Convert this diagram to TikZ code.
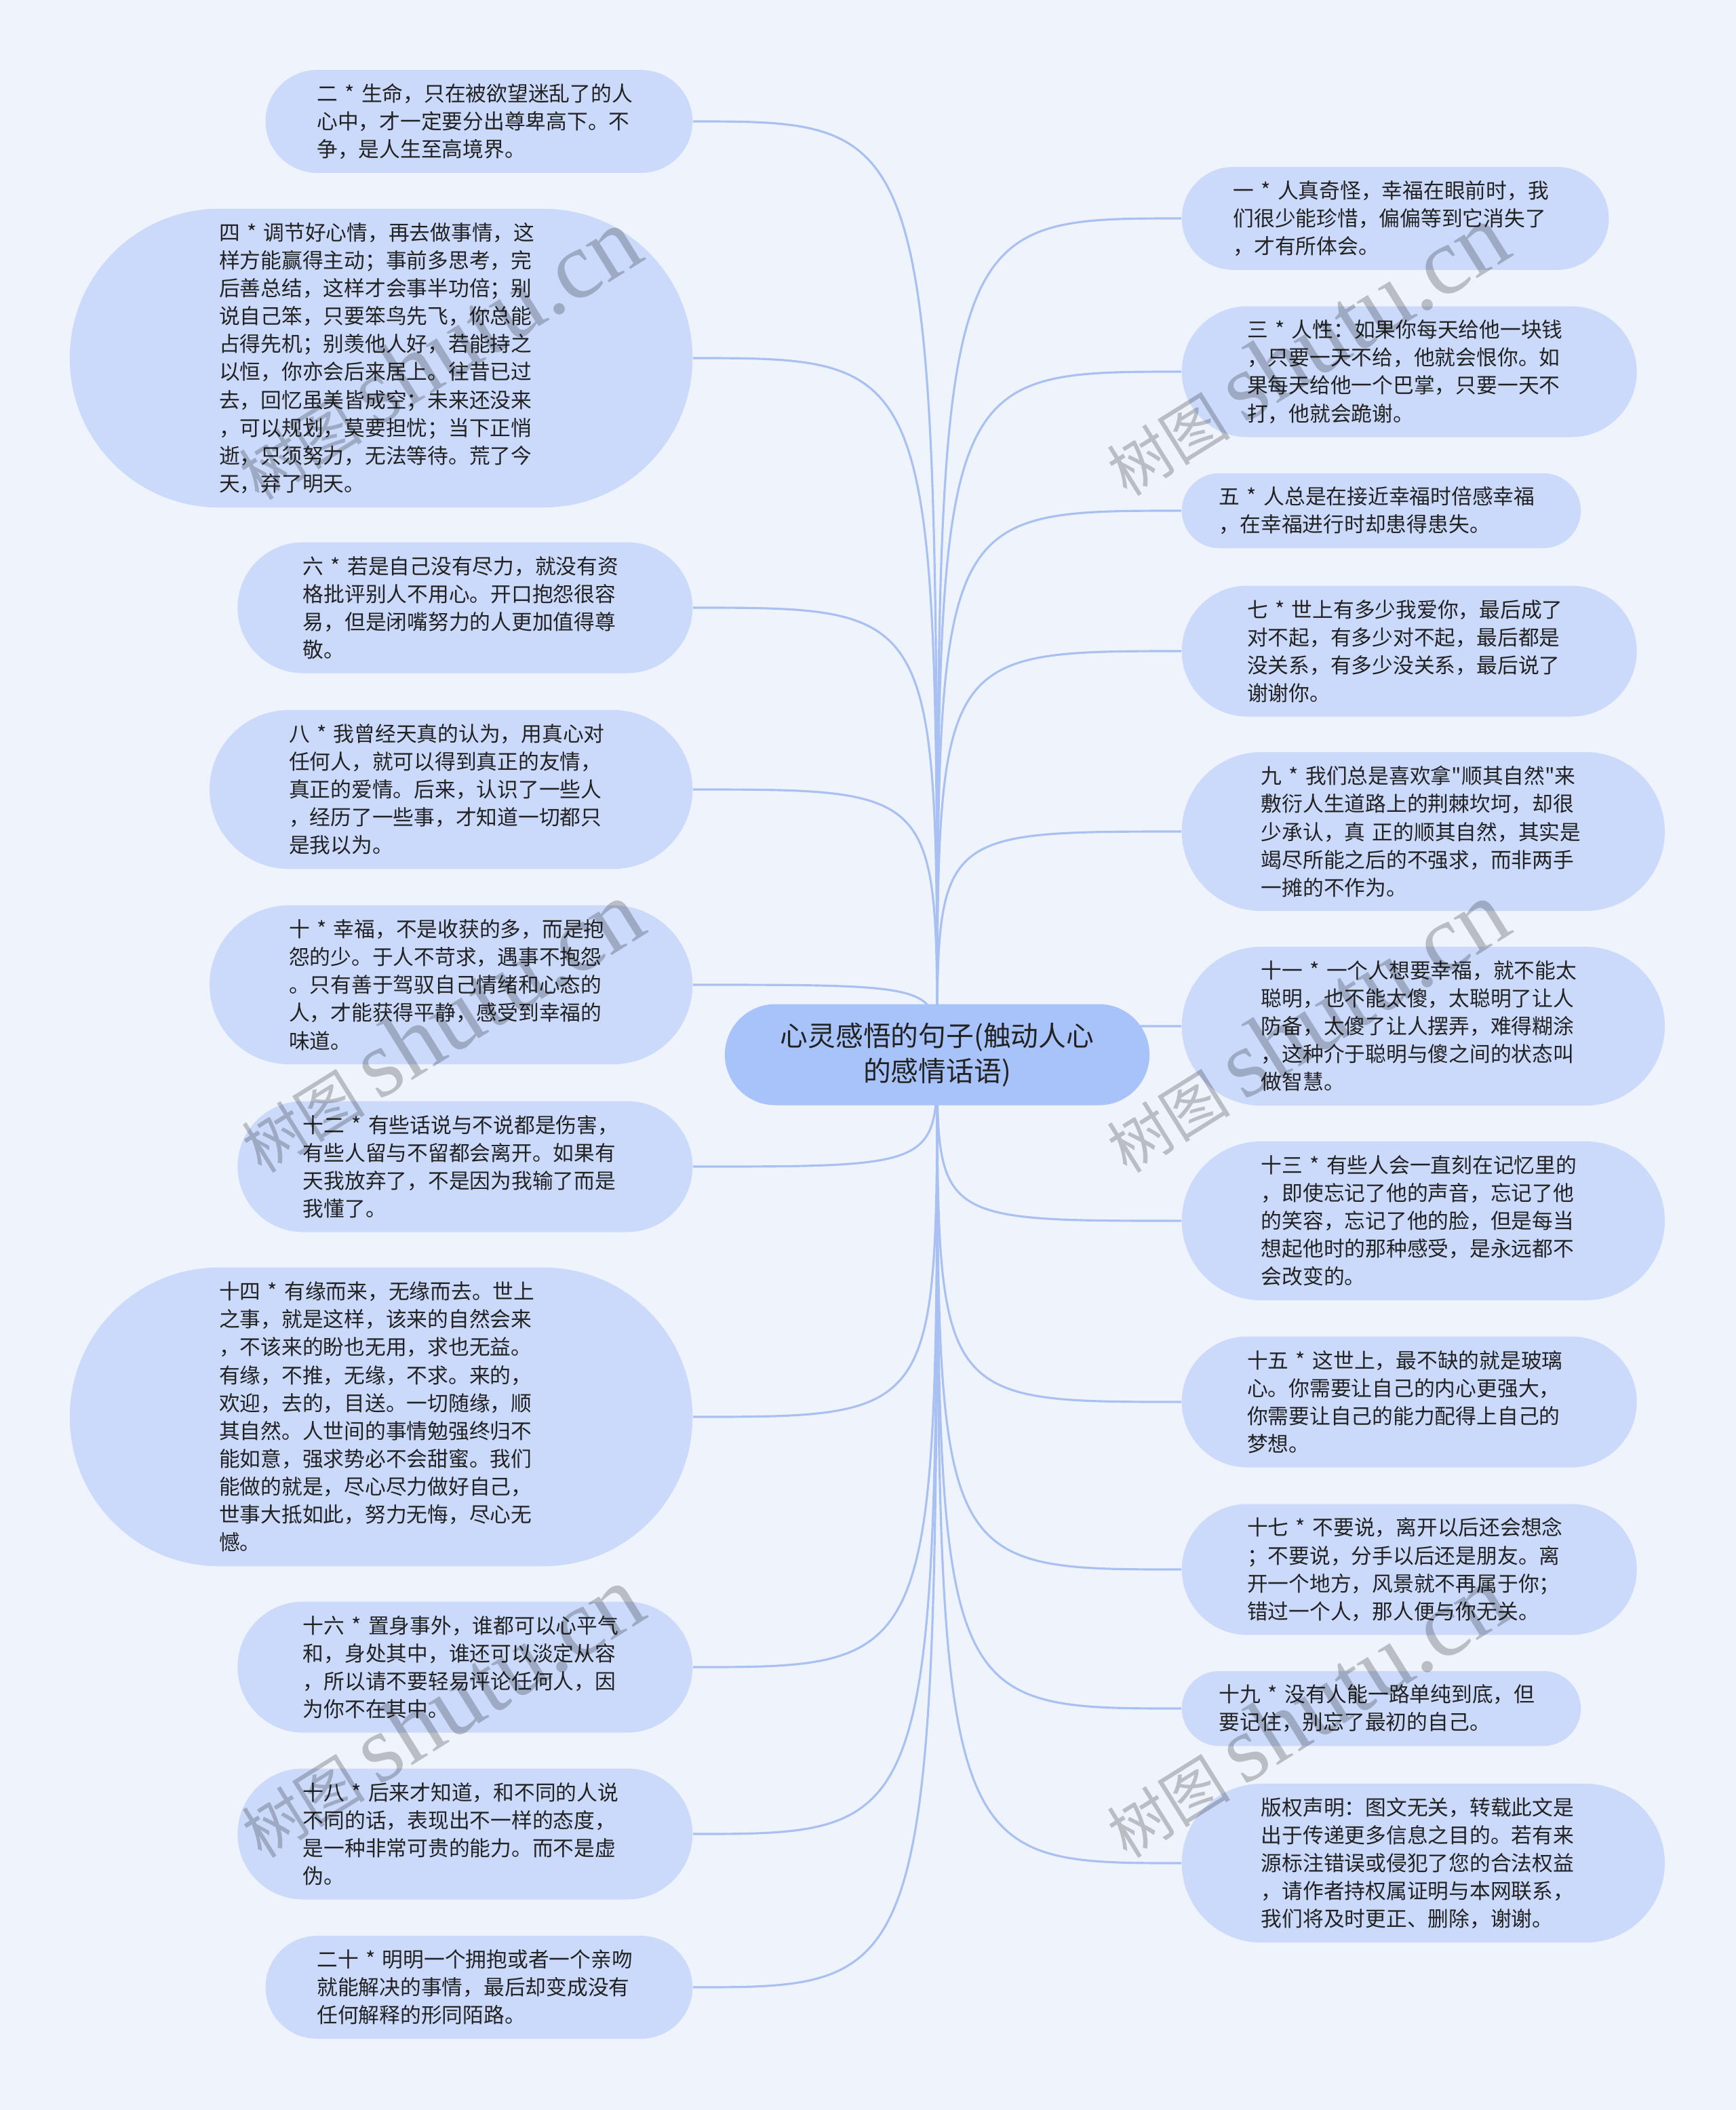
\documentclass[tikz,border=0pt]{standalone}
\usepackage{fontspec}
\setmainfont{Noto Sans CJK SC}
\newfontfamily\wmlatin{Liberation Serif}
\usepackage{tikz}
\usetikzlibrary{backgrounds}
\definecolor{bgblue}{HTML}{EFF4FC}
\definecolor{leafblue}{HTML}{CBDAFA}
\definecolor{hubblue}{HTML}{A8C3FA}
\definecolor{linkblue}{HTML}{A9C1F2}
\definecolor{txt}{HTML}{222222}
% leaf=<number of text lines>
\tikzset{leaf/.style={rectangle,fill=leafblue,text=txt,text width=4.78cm,align=left,inner ysep=3pt,
    minimum height={(0.4125*#1+0.28)*1cm},inner xsep={(0.4125*#1+0.28)*0.5cm},
    rounded corners={(0.4125*#1+0.28)*0.5cm},font=\fontsize{8.75pt}{11.7pt}\selectfont},
  hub/.style={rectangle,fill=hubblue,text=txt,align=center,minimum height=1.49cm,inner xsep=0.82cm,
    rounded corners=0.745cm,font=\fontsize{11.6pt}{14.7pt}\selectfont},
  link/.style={draw=linkblue,line width=0.9pt},
  wm/.style={rotate=32,text=black,text opacity=0.22,font=\fontsize{26pt}{26pt}\selectfont}}

\begin{document}
\begin{tikzpicture}
\useasboundingbox (0,0) rectangle (25.6,-31.11);
\node[hub] (root) at (13.82,-15.55) {心灵感悟的句子(触动人心\\的感情话语)};
% left side
\node[leaf=3,anchor=east] (s2) at (10.22,-1.79) {二~*~生命，只在被欲望迷乱了的人\\心中，才一定要分出尊卑高下。不\\争，是人生至高境界。};
\node[leaf=10,anchor=east] (s4) at (10.22,-5.28) {四~*~调节好心情，再去做事情，这\\样方能赢得主动；事前多思考，完\\后善总结，这样才会事半功倍；别\\说自己笨，只要笨鸟先飞，你总能\\占得先机；别羡他人好，若能持之\\以恒，你亦会后来居上。往昔已过\\去，回忆虽美皆成空；未来还没来\\，可以规划，莫要担忧；当下正悄\\逝，只须努力，无法等待。荒了今\\天，弃了明天。};
\node[leaf=4,anchor=east] (s6) at (10.22,-8.96) {六~*~若是自己没有尽力，就没有资\\格批评别人不用心。开口抱怨很容\\易，但是闭嘴努力的人更加值得尊\\敬。};
\node[leaf=5,anchor=east] (s8) at (10.22,-11.64) {八~*~我曾经天真的认为，用真心对\\任何人，就可以得到真正的友情，\\真正的爱情。后来，认识了一些人\\，经历了一些事，才知道一切都只\\是我以为。};
\node[leaf=5,anchor=east] (s10) at (10.22,-14.52) {十~*~幸福，不是收获的多，而是抱\\怨的少。于人不苛求，遇事不抱怨\\。只有善于驾驭自己情绪和心态的\\人，才能获得平静，感受到幸福的\\味道。};
\node[leaf=4,anchor=east] (s12) at (10.22,-17.20) {十二~*~有些话说与不说都是伤害，\\有些人留与不留都会离开。如果有\\天我放弃了，不是因为我输了而是\\我懂了。};
\node[leaf=10,anchor=east] (s14) at (10.22,-20.89) {十四~*~有缘而来，无缘而去。世上\\之事，就是这样，该来的自然会来\\，不该来的盼也无用，求也无益。\\有缘，不推，无缘，不求。来的，\\欢迎，去的，目送。一切随缘，顺\\其自然。人世间的事情勉强终归不\\能如意，强求势必不会甜蜜。我们\\能做的就是，尽心尽力做好自己，\\世事大抵如此，努力无悔，尽心无\\憾。};
\node[leaf=4,anchor=east] (s16) at (10.22,-24.58) {十六~*~置身事外，谁都可以心平气\\和，身处其中，谁还可以淡定从容\\，所以请不要轻易评论任何人，因\\为你不在其中。};
\node[leaf=4,anchor=east] (s18) at (10.22,-27.04) {十八~*~后来才知道，和不同的人说\\不同的话，表现出不一样的态度，\\是一种非常可贵的能力。而不是虚\\伪。};
\node[leaf=3,anchor=east] (s20) at (10.22,-29.30) {二十~*~明明一个拥抱或者一个亲吻\\就能解决的事情，最后却变成没有\\任何解释的形同陌路。};
% right side
\node[leaf=3,anchor=west] (s1) at (17.42,-3.22) {一~*~人真奇怪，幸福在眼前时，我\\们很少能珍惜，偏偏等到它消失了\\，才有所体会。};
\node[leaf=4,anchor=west] (s3) at (17.42,-5.48) {三~*~人性：如果你每天给他一块钱\\，只要一天不给，他就会恨你。如\\果每天给他一个巴掌，只要一天不\\打，他就会跪谢。};
\node[leaf=2,anchor=west] (s5) at (17.42,-7.53) {五~*~人总是在接近幸福时倍感幸福\\，在幸福进行时却患得患失。};
\node[leaf=4,anchor=west] (s7) at (17.42,-9.60) {七~*~世上有多少我爱你，最后成了\\对不起，有多少对不起，最后都是\\没关系，有多少没关系，最后说了\\谢谢你。};
\node[leaf=5,anchor=west] (s9) at (17.42,-12.26) {九~*~我们总是喜欢拿\textquotedbl 顺其自然\textquotedbl 来\\敷衍人生道路上的荆棘坎坷，却很\\少承认，真~正的顺其自然，其实是\\竭尽所能之后的不强求，而非两手\\一摊的不作为。};
\node[leaf=5,anchor=west] (s11) at (17.42,-15.13) {十一~*~一个人想要幸福，就不能太\\聪明，也不能太傻，太聪明了让人\\防备，太傻了让人摆弄，难得糊涂\\，这种介于聪明与傻之间的状态叫\\做智慧。};
\node[leaf=5,anchor=west] (s13) at (17.42,-18.00) {十三~*~有些人会一直刻在记忆里的\\，即使忘记了他的声音，忘记了他\\的笑容，忘记了他的脸，但是每当\\想起他时的那种感受，是永远都不\\会改变的。};
\node[leaf=4,anchor=west] (s15) at (17.42,-20.67) {十五~*~这世上，最不缺的就是玻璃\\心。你需要让自己的内心更强大，\\你需要让自己的能力配得上自己的\\梦想。};
\node[leaf=4,anchor=west] (s17) at (17.42,-23.14) {十七~*~不要说，离开以后还会想念\\；不要说，分手以后还是朋友。离\\开一个地方，风景就不再属于你；\\错过一个人，那人便与你无关。};
\node[leaf=2,anchor=west] (s19) at (17.42,-25.19) {十九~*~没有人能一路单纯到底，但\\要记住，别忘了最初的自己。};
\node[leaf=5,anchor=west] (cr) at (17.42,-27.47) {版权声明：图文无关，转载此文是\\出于传递更多信息之目的。若有来\\源标注错误或侵犯了您的合法权益\\，请作者持权属证明与本网联系，\\我们将及时更正、删除，谢谢。};
% connectors under the nodes
\begin{scope}[on background layer]
\fill[bgblue] (0,0) rectangle (25.6,-31.11);
\foreach \n in {s2,s4,s6,s8,s10,s12,s14,s16,s18,s20}
  \draw[link] (root.center) .. controls (root.center |- \n.east) .. (\n.east);
\foreach \n in {s1,s3,s5,s7,s9,s11,s13,s15,s17,s19,cr}
  \draw[link] (root.center) .. controls (root.center |- \n.west) .. (\n.west);
\end{scope}
% watermarks
\node[wm] (w1) at (6.45,-5.22) {树图 {\wmlatin\fontsize{40pt}{40pt}\selectfont shutu.cn}};
\node[wm] (w2) at (19.25,-5.16) {树图 {\wmlatin\fontsize{40pt}{40pt}\selectfont shutu.cn}};
\node[wm] (w3) at (6.49,-15.14) {树图 {\wmlatin\fontsize{40pt}{40pt}\selectfont shutu.cn}};
\node[wm] (w4) at (19.25,-15.14) {树图 {\wmlatin\fontsize{40pt}{40pt}\selectfont shutu.cn}};
\node[wm] (w5) at (6.49,-25.24) {树图 {\wmlatin\fontsize{40pt}{40pt}\selectfont shutu.cn}};
\node[wm] (w6) at (19.25,-25.24) {树图 {\wmlatin\fontsize{40pt}{40pt}\selectfont shutu.cn}};
\end{tikzpicture}
\end{document}
